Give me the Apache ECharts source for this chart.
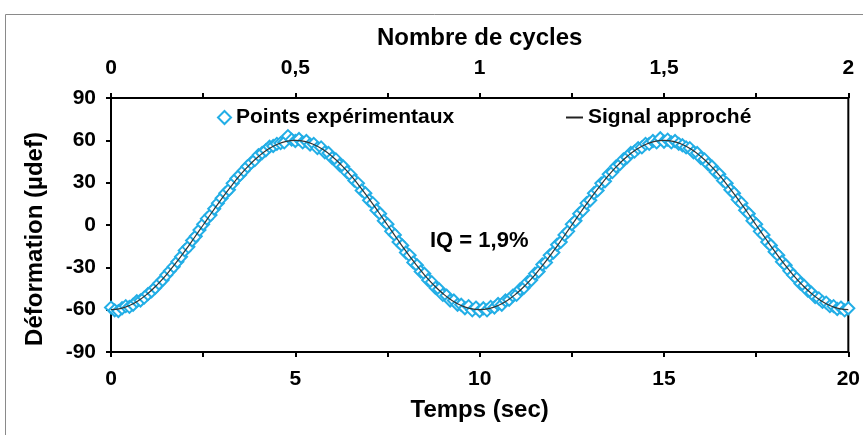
<!DOCTYPE html>
<html><head><meta charset="utf-8">
<script src="https://cdn.jsdelivr.net/npm/echarts@6/dist/echarts.min.js"></script>
<style>html,body{margin:0;padding:0;background:#fff}#c{width:863px;height:435px}</style>
</head><body><div id="c"></div>
<script>
// Experimental points, sampled every 0.1 s from 0 to 20 s (µdef)
const sampleStep = 0.1;
const pointsCycle1Rise = [-58.5,-60.5,-61.0,-59.0,-57.5,-58.0,-56.5,-54.0,-53.5,-51.5,-49.0,-47.0,-44.5,-41.5,-39.0,-35.5,-32.5,-29.5,-26.0,-22.5,-18.0,-15.5,-11.0,-8.0,-3.5,0.5,4.5,7.0,11.5,15.5,19.0,22.5,25.0,29.5,33.0,35.5,38.5,41.5,44.0,46.0,49.5,51.0,53.0,55.5,56.0,57.5,58.0,58.5,63.0,60.5,59.5];
const pointsCycle1Fall = [61.0,58.5,59.5,57.0,57.5,54.5,55.0,51.5,51.0,47.5,46.5,42.5,41.5,37.5,35.5,31.5,29.5,24.5,22.5,17.5,15.5,10.5,8.0,3.0,0.5,-4.5,-7.0,-12.0,-14.5,-19.5,-21.5,-26.5,-28.5,-33.0,-34.5,-39.0,-40.5,-44.5,-45.5,-49.5,-50.0,-53.5,-53.5,-56.5,-56.5,-59.0,-57.5,-60.5,-58.5,-61.0];
const pointsCycle2Rise = [-59.0,-60.5,-58.0,-58.5,-56.0,-56.5,-53.5,-53.0,-50.0,-49.5,-45.5,-44.5,-40.5,-39.0,-34.5,-33.0,-28.0,-26.5,-21.5,-19.5,-14.0,-12.0,-7.0,-4.5,0.5,3.0,8.0,10.5,15.5,17.5,22.5,24.5,29.5,31.0,36.0,37.5,41.5,43.0,46.5,48.0,51.0,52.0,54.5,55.0,57.5,57.5,59.5,58.5,61.5,59.0];
const pointsCycle2Fall = [60.5,58.5,59.5,57.5,56.5,55.0,54.5,51.5,51.0,47.5,46.5,43.0,41.5,37.5,36.0,31.5,29.5,25.0,22.5,18.0,15.5,10.5,8.0,3.0,0.5,-4.5,-7.0,-12.0,-14.5,-19.0,-21.5,-26.0,-28.5,-32.5,-35.5,-38.0,-41.5,-43.0,-46.5,-48.0,-51.0,-52.0,-54.5,-55.0,-57.5,-57.5,-59.5,-58.5,-60.5,-59.0];

// Approximated signal, sampled every 0.25 s (µdef)
const fitStep = 0.25;
const fitValues = [
 -60,-59.26,-57.06,-53.46,-48.54,-42.43,-35.27,-27.24,-18.54,-9.39,0,9.39,18.54,27.24,35.27,42.43,48.54,53.46,57.06,59.26,60,
 59.26,57.06,53.46,48.54,42.43,35.27,27.24,18.54,9.39,0,-9.39,-18.54,-27.24,-35.27,-42.43,-48.54,-53.46,-57.06,-59.26,-60,
 -59.26,-57.06,-53.46,-48.54,-42.43,-35.27,-27.24,-18.54,-9.39,0,9.39,18.54,27.24,35.27,42.43,48.54,53.46,57.06,59.26,60,
 59.26,57.06,53.46,48.54,42.43,35.27,27.24,18.54,9.39,0,-9.39,-18.54,-27.24,-35.27,-42.43,-48.54,-53.46,-57.06,-59.26,-60
];

const seriesNames = ['Points expérimentaux', 'Signal approché'];
const annotation = 'IQ = 1,9%';

const pointValues = [].concat(pointsCycle1Rise, pointsCycle1Fall, pointsCycle2Rise, pointsCycle2Fall);
const pointData = pointValues.map((v, i) => [+(i * sampleStep).toFixed(2), v]);
const fitData = fitValues.map((v, i) => [i * fitStep, v]);

const FONT = "'Liberation Sans', Arial, sans-serif";
const CYAN = '#22aee6';
const legendText = {fontFamily: FONT, fontSize: 21, fontWeight: 'bold', color: '#000'};
const axisTitle = {fontFamily: FONT, fontSize: 24, fontWeight: 'bold', color: '#000'};
const tickLabel = {fontFamily: FONT, fontSize: 21, fontWeight: 'bold', color: '#000'};
const axisLineStyle = {show: true, onZero: false, lineStyle: {color: '#000', width: 2}};
const tickStyle = {show: true, inside: false, length: 5, lineStyle: {color: '#000', width: 2}};

const chart = echarts.init(document.getElementById('c'), null, {renderer: 'canvas'});
chart.setOption({
  animation: false,
  backgroundColor: '#fff',
  textStyle: {fontFamily: FONT},
  grid: {left: 111, right: 13, top: 98, bottom: 83, show: true, borderColor: '#000', borderWidth: 2, containLabel: false},
  legend: [{
    left: 212, top: 102, itemWidth: 13, itemHeight: 13, itemGap: 10,
    textStyle: legendText,
    data: [{name: seriesNames[0], icon: 'diamond'}]
  }, {
    left: 561, top: 102, itemWidth: 17, itemHeight: 2, itemGap: 10,
    textStyle: legendText,
    data: [{name: seriesNames[1], icon: 'rect'}]
  }],
  xAxis: [{
    type: 'value', position: 'bottom', min: 0, max: 20, interval: 2.5,
    name: 'Temps (sec)', nameLocation: 'middle', nameGap: 46,
    nameTextStyle: axisTitle,
    axisLine: axisLineStyle, axisTick: tickStyle,
    axisLabel: Object.assign({margin: 17, formatter: v => (v % 5 === 0 ? String(v) : '')}, tickLabel),
    splitLine: {show: false}
  }, {
    type: 'value', position: 'top', min: 0, max: 2, interval: 0.25,
    name: 'Nombre de cycles', nameLocation: 'middle', nameGap: 48,
    nameTextStyle: axisTitle,
    axisLine: axisLineStyle, axisTick: tickStyle,
    axisLabel: Object.assign({margin: 19,
      formatter: v => (Math.abs(v * 2 - Math.round(v * 2)) < 1e-9 ? String(v).replace('.', ',') : '')}, tickLabel),
    splitLine: {show: false}
  }],
  yAxis: {
    type: 'value', min: -90, max: 90, interval: 30,
    name: 'Déformation (µdef)', nameLocation: 'middle', nameGap: 64,
    nameTextStyle: Object.assign({padding: [0, 28, 0, 0]}, axisTitle),
    axisLine: axisLineStyle, axisTick: tickStyle,
    axisLabel: Object.assign({margin: 15}, tickLabel),
    splitLine: {show: false}
  },
  graphic: [
    {type: 'rect', silent: true, z: -10, shape: {x: 5.5, y: 14.5, width: 900, height: 500},
     style: {fill: 'none', stroke: '#8a8a8a', lineWidth: 1}},
    {type: 'text', left: 430, top: 230, silent: true,
     style: {text: annotation, font: "bold 22px 'Liberation Sans', Arial, sans-serif", fill: '#000'}}
  ],
  series: [{
    name: seriesNames[0], type: 'scatter', xAxisIndex: 0, yAxisIndex: 0,
    symbol: 'diamond', symbolSize: 12,
    itemStyle: {color: '#fff', borderColor: CYAN, borderWidth: 2, opacity: 1},
    data: pointData, z: 2
  }, {
    name: seriesNames[1], type: 'line', xAxisIndex: 0, yAxisIndex: 0,
    smooth: true, symbol: 'none', showSymbol: false,
    lineStyle: {color: '#333', width: 1.2},
    itemStyle: {color: '#222'},
    data: fitData, z: 3
  }]
});
</script></body></html>
